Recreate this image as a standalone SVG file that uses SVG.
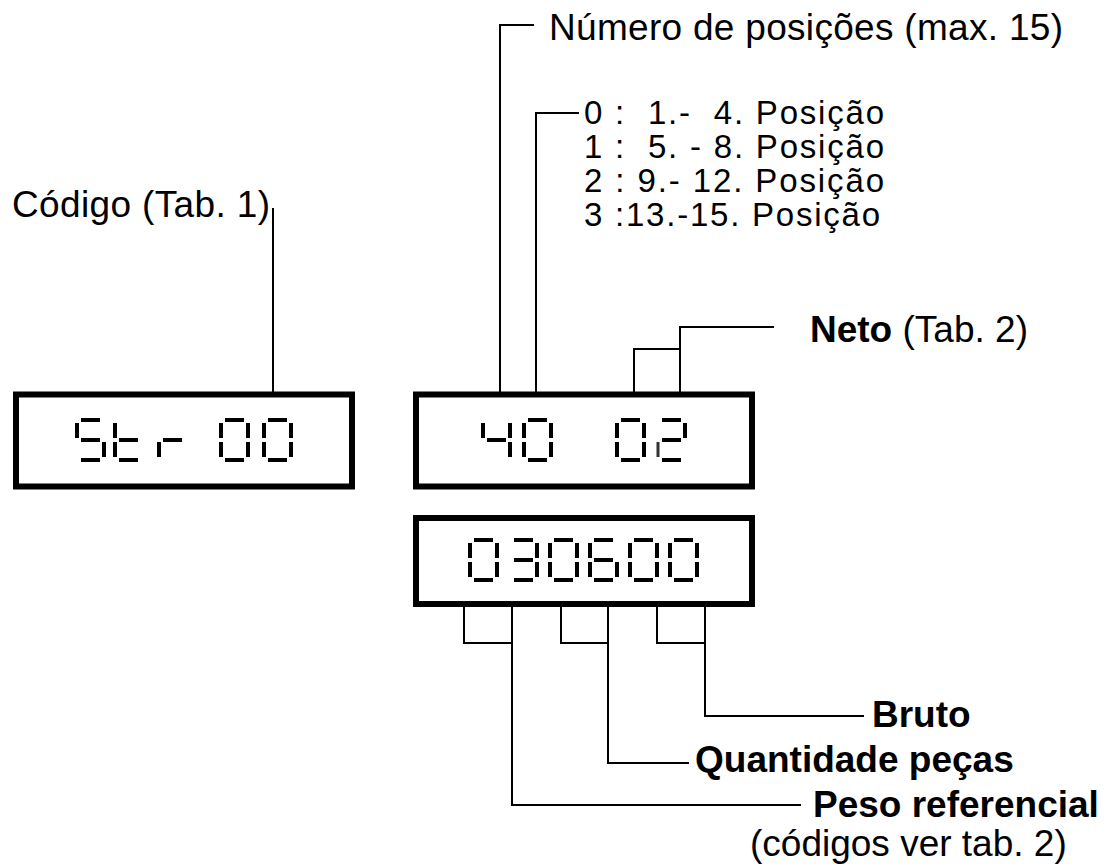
<svg xmlns="http://www.w3.org/2000/svg" width="1108" height="868" viewBox="0 0 1108 868">
<style>
.box{fill:none;stroke:#000;stroke-width:6}
.ln{fill:none;stroke:#000;stroke-width:2;stroke-linecap:square}
text{font-family:"Liberation Sans",Arial,Helvetica,sans-serif;font-size:37px;fill:#000}
.b{font-weight:bold}
.pos{font-size:33px}
.seg{fill:#000}
</style>
<defs>
<rect id="sa" class="seg" x="6" y="0" width="19" height="4"/>
<rect id="sb" class="seg" x="27" y="5" width="4" height="15"/>
<rect id="sc" class="seg" x="27" y="24" width="4" height="15"/>
<rect id="sd" class="seg" x="6" y="40" width="19" height="4"/>
<rect id="se" class="seg" x="0" y="24" width="4" height="15"/>
<rect id="sf" class="seg" x="0" y="5" width="4" height="15"/>
<rect id="sg" class="seg" x="6" y="20" width="19" height="4"/>
<g id="d0"><use href="#sa"/><use href="#sb"/><use href="#sc"/><use href="#sd"/><use href="#se"/><use href="#sf"/></g>
<g id="d3"><use href="#sa"/><use href="#sb"/><use href="#sg"/><use href="#sc"/><use href="#sd"/></g>
<g id="d4"><use href="#sf"/><use href="#sg"/><use href="#sb"/><use href="#sc"/></g>
<g id="d6"><use href="#sa"/><use href="#sf"/><use href="#sg"/><use href="#se"/><use href="#sc"/><use href="#sd"/></g>
<g id="dS"><use href="#sa"/><use href="#sf"/><use href="#sg"/><use href="#sc"/><use href="#sd"/></g>
<g id="dt"><use href="#sf"/><use href="#se"/><use href="#sg"/><use href="#sd"/></g>
<g id="dr"><use href="#se"/><use href="#sg"/></g>
</defs>
<rect width="1108" height="868" fill="#fff"/>

<g id="display-code">
<rect class="box" x="16" y="394.5" width="336" height="92"/>
<use href="#dS" x="75" y="418"/>
<use href="#dt" x="113" y="418"/>
<use href="#dr" x="157" y="418"/>
<use href="#d0" x="219" y="418"/>
<use href="#d0" x="262" y="418"/>
</g>

<g id="display-positions">
<rect class="box" x="416" y="394.5" width="336" height="92"/>
<use href="#d4" x="481" y="418"/>
<use href="#d0" x="522" y="418"/>
<use href="#d0" x="615" y="418"/>
<g transform="translate(656,418)"><use href="#sa"/><use href="#sb"/><use href="#sg"/><rect x="0.5" y="24" width="3" height="15" fill="#333"/><use href="#sd"/></g>
</g>

<g id="display-values">
<rect class="box" x="416" y="518" width="336" height="86"/>
<use href="#d0" x="468" y="538"/>
<use href="#d3" x="508" y="538"/>
<use href="#d0" x="548" y="538"/>
<use href="#d6" x="588" y="538"/>
<use href="#d0" x="628" y="538"/>
<use href="#d0" x="668" y="538"/>
</g>

<g id="connectors">
<path class="ln" d="M273 209 V392"/>
<path class="ln" d="M533 25 H500 V392"/>
<path class="ln" d="M578 113 H536 V392"/>
<path class="ln" d="M773 327 H680 V392"/>
<path class="ln" d="M680 349 H634 V392"/>
<path class="ln" d="M464 607 V643 H512"/>
<path class="ln" d="M512 607 V805 H800"/>
<path class="ln" d="M561 607 V643 H608"/>
<path class="ln" d="M608 607 V763 H688"/>
<path class="ln" d="M657 607 V643 H705"/>
<path class="ln" d="M705 607 V716 H863"/>
</g>

<g id="label-codigo"><text x="12" y="217" textLength="258" lengthAdjust="spacing">Código (Tab. 1)</text></g>
<g id="label-numero"><text x="549" y="40" textLength="514" lengthAdjust="spacing">Número de posições (max. 15)</text></g>
<g id="label-posicoes">
<text class="pos" x="584" y="124" xml:space="preserve" textLength="300" lengthAdjust="spacing">0 :  1.-  4. Posição</text>
<text class="pos" x="584" y="158" xml:space="preserve" textLength="300" lengthAdjust="spacing">1 :  5. - 8. Posição</text>
<text class="pos" x="584" y="192" xml:space="preserve" textLength="300" lengthAdjust="spacing">2 : 9.- 12. Posição</text>
<text class="pos" x="584" y="226" xml:space="preserve" textLength="296" lengthAdjust="spacing">3 :13.-15. Posição</text>
</g>
<g id="label-neto"><text x="810" y="342"><tspan class="b">Neto</tspan> (Tab. 2)</text></g>
<g id="label-bruto"><text class="b" x="872" y="727">Bruto</text></g>
<g id="label-quantidade"><text class="b" x="695" y="772">Quantidade peças</text></g>
<g id="label-peso"><text class="b" x="813" y="817">Peso referencial</text>
<text x="750" y="856">(códigos ver tab. 2)</text></g>
</svg>
